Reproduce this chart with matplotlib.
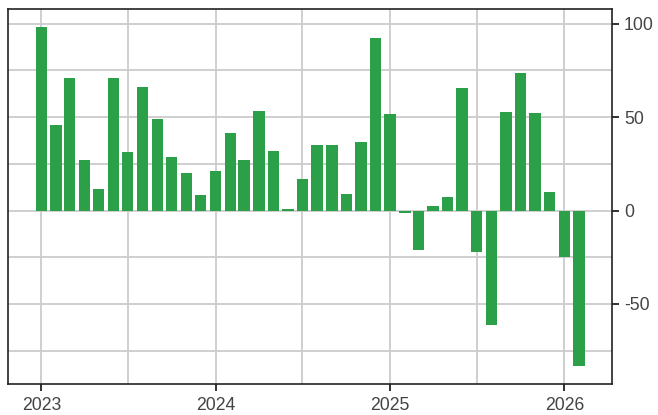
import matplotlib
matplotlib.use("Agg")
import matplotlib.pyplot as plt
import matplotlib.dates as mdates
import pandas as pd
import numpy as np

months = pd.date_range("2023-01-01", "2026-02-01", freq="MS")
values = [98.4, 45.6, 70.7, 27.1, 11.7, 70.7, 31.4, 66.3, 49.1, 28.4, 20.0, 8.2,
          21.3, 41.3, 26.8, 53.5, 32.1, 0.9, 16.7, 35.1, 35.3, 8.7, 36.7, 92.2,
          51.6, -1.4, -21.1, 2.3, 7.4, 65.8, -22.3, -61.3, 52.8, 73.4, 52.0, 10.1,
          -24.6, -83.3]
year_ticks = pd.to_datetime(["2023-01-01", "2024-01-01", "2025-01-01", "2026-01-01"])
year_labels = ["2023", "2024", "2025", "2026"]
half_ticks = pd.to_datetime(["2023-07-01", "2024-07-01", "2025-07-01"])
y_ticks = [-50, 0, 50, 100]
y_minor = [-75, -25, 25, 75]

plt.rcParams['font.family'] = ['Liberation Sans', 'DejaVu Sans']
plt.rcParams['axes.unicode_minus'] = False
fig = plt.figure(figsize=(6.58, 4.15), dpi=100)
ax = fig.add_axes([8/658, 1-384/415, (612-8)/658, (384-9)/415])

ax.bar(months, values, width=24, color="#2ca048", zorder=3)

ax.set_xlim(pd.Timestamp("2023-01-01") - pd.Timedelta(days=70),
            pd.Timestamp("2026-01-01") + pd.Timedelta(days=100))
ax.set_ylim(-92.8, 107.8)

ax.set_xticks(year_ticks)
ax.set_xticklabels(year_labels)
ax.set_xticks(half_ticks, minor=True)
ax.set_yticks(y_ticks)
ax.set_yticks(y_minor, minor=True)
ax.yaxis.tick_right()
ax.yaxis.set_label_position("right")

ax.grid(True, which="both", color="#cccccc", linewidth=1.3, zorder=0)
ax.tick_params(which="major", length=5, width=1.3, color="#222222",
               labelsize=12.7, labelcolor="#444444")
ax.tick_params(axis="x", which="major", pad=4)
ax.tick_params(which="minor", length=0)
for s in ax.spines.values():
    s.set_color("#222222")
    s.set_linewidth(1.2)

fig.savefig("out.png", dpi=100)
